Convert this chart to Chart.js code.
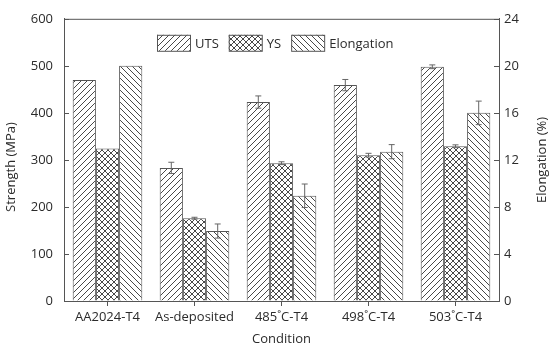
<!DOCTYPE html>
<html>
<head>
<meta charset="utf-8">
<script src="https://cdn.jsdelivr.net/npm/chart.js@4"></script>
<style>
  body { margin: 0; background: #fff; }
  #wrap { width: 550px; height: 348px; }
</style>
</head>
<body>
<div id="wrap"><canvas id="chart" width="550" height="348"></canvas></div>
<script>
const conditions = ['AA2024-T4', 'As-deposited', '485˚C-T4', '498˚C-T4', '503˚C-T4'];

// strength in MPa
const utsValues = [470, 283, 423, 459, 498];
const utsErrors = [0, 12, 13, 12, 4];
const ysValues = [324, 176, 293, 310, 329];
const ysErrors = [0, 2, 3, 4, 3];

// elongation in %
const elongValues = [20.0, 5.95, 8.95, 12.7, 16.0];
const elongErrors = [0, 0.6, 1.0, 0.6, 1.0];

const strengthTicks = [0, 100, 200, 300, 400, 500, 600];
const elongTicks = [0, 4, 8, 12, 16, 20, 24];

const lineCol = '#555';
const textCol = '#2b2b2b';
const fontFamily = '"Open Sans", sans-serif';

// hatch fills like the printed figure
function hatch(kind) {
    const s = 6;
    const c = document.createElement('canvas');
    c.width = s; c.height = s;
    const ctx = c.getContext('2d');
    ctx.fillStyle = '#fff';
    ctx.fillRect(0, 0, s, s);
    ctx.strokeStyle = '#333';
    ctx.lineWidth = 0.9;
    ctx.beginPath();
    if (kind.includes('/')) {
        ctx.moveTo(0, s); ctx.lineTo(s, 0);
        ctx.moveTo(-1, 1); ctx.lineTo(1, -1);
        ctx.moveTo(s - 1, s + 1); ctx.lineTo(s + 1, s - 1);
    }
    if (kind.includes('\\')) {
        ctx.moveTo(0, 0); ctx.lineTo(s, s);
        ctx.moveTo(-1, s - 1); ctx.lineTo(1, s + 1);
        ctx.moveTo(s - 1, -1); ctx.lineTo(s + 1, 1);
    }
    ctx.stroke();
    return ctx.createPattern(c, 'repeat');
}

Chart.defaults.font.family = fontFamily;
Chart.defaults.font.size = 13;
Chart.defaults.color = textCol;

const errorBars = {
    id: 'errorBars',
    afterDatasetsDraw(chart) {
        const ctx = chart.ctx;
        ctx.save();
        ctx.strokeStyle = '#666';
        ctx.lineWidth = 1;
        chart.data.datasets.forEach((ds, i) => {
            const meta = chart.getDatasetMeta(i);
            const scale = chart.scales[ds.yAxisID];
            meta.data.forEach((bar, j) => {
                const err = ds.errors[j];
                if (!err) return;
                const v = ds.data[j];
                const yTop = scale.getPixelForValue(v + err);
                const yBot = scale.getPixelForValue(v - err);
                ctx.beginPath();
                ctx.moveTo(bar.x, yTop); ctx.lineTo(bar.x, yBot);
                ctx.moveTo(bar.x - 3, yTop); ctx.lineTo(bar.x + 3, yTop);
                ctx.moveTo(bar.x - 3, yBot); ctx.lineTo(bar.x + 3, yBot);
                ctx.stroke();
            });
        });
        ctx.restore();
    }
};

// legend sits inside the plot, near the top
const innerLegend = {
    id: 'innerLegend',
    afterDraw(chart) {
        const ctx = chart.ctx;
        const a = chart.chartArea;
        const boxW = 33, boxH = 16, gap = 5, spacing = 10;
        ctx.save();
        ctx.font = '13px ' + fontFamily;
        const items = chart.data.datasets.map(ds => ({ ds, w: boxW + gap + ctx.measureText(ds.label).width }));
        const total = items.reduce((s, it) => s + it.w, 0) + spacing * (items.length - 1);
        let x = Math.round((a.left + a.right) / 2 - total / 2 - 6);
        const top = a.top + 16;
        items.forEach(it => {
            ctx.fillStyle = it.ds.backgroundColor;
            ctx.fillRect(x, top, boxW, boxH);
            ctx.strokeStyle = lineCol;
            ctx.lineWidth = 1;
            ctx.strokeRect(x + 0.5, top + 0.5, boxW, boxH);
            ctx.fillStyle = textCol;
            ctx.textBaseline = 'middle';
            ctx.textAlign = 'left';
            ctx.fillText(it.ds.label, x + boxW + gap, top + boxH / 2 + 1);
            x += it.w + spacing;
        });
        ctx.restore();
    }
};

const frame = {
    id: 'frame',
    afterDraw(chart) {
        const ctx = chart.ctx;
        const a = chart.chartArea;
        ctx.save();
        ctx.strokeStyle = lineCol;
        ctx.lineWidth = 1;
        ctx.beginPath();
        ctx.moveTo(a.left, a.top + 0.5); ctx.lineTo(a.right, a.top + 0.5);
        // inward ticks on both value axes
        const y = chart.scales.y, y1 = chart.scales.y1;
        y.ticks.forEach(t => {
            const p = Math.round(y.getPixelForValue(t.value)) + 0.5;
            ctx.moveTo(a.left, p); ctx.lineTo(a.left + 5, p);
        });
        y1.ticks.forEach(t => {
            const p = Math.round(y1.getPixelForValue(t.value)) + 0.5;
            ctx.moveTo(a.right - 5, p); ctx.lineTo(a.right, p);
        });
        ctx.stroke();
        // both axis titles read bottom to top in the original
        ctx.fillStyle = textCol;
        ctx.font = '13px ' + fontFamily;
        ctx.textAlign = 'center';
        ctx.textBaseline = 'middle';
        ctx.save();
        ctx.translate(11, 167);
        ctx.rotate(-Math.PI / 2);
        ctx.fillText('Strength (MPa)', 0, 0);
        ctx.restore();
        ctx.translate(542, (a.top + a.bottom) / 2);
        ctx.rotate(-Math.PI / 2);
        ctx.fillText('Elongation (%)', 0, 0);
        ctx.restore();
    }
};

new Chart(document.getElementById('chart'), {
    type: 'bar',
    data: {
        labels: conditions,
        datasets: [
            {
                label: 'UTS', data: utsValues, errors: utsErrors, yAxisID: 'y',
                backgroundColor: hatch('/'), borderColor: lineCol, borderWidth: 1
            },
            {
                label: 'YS', data: ysValues, errors: ysErrors, yAxisID: 'y',
                backgroundColor: hatch('/\\'), borderColor: lineCol, borderWidth: 1
            },
            {
                label: 'Elongation', data: elongValues, errors: elongErrors, yAxisID: 'y1',
                backgroundColor: hatch('\\'), borderColor: lineCol, borderWidth: 1
            }
        ]
    },
    options: {
        responsive: false,
        animation: false,
        layout: { padding: { top: 11, left: 0, right: 0, bottom: 0 } },
        datasets: { bar: { categoryPercentage: 0.8, barPercentage: 1.0, borderSkipped: 'start' } },
        plugins: {
            legend: { display: false },
            tooltip: { enabled: false }
        },
        scales: {
            x: {
                grid: { display: true, drawOnChartArea: false, drawTicks: true, tickLength: 5, offset: false, color: lineCol },
                border: { color: lineCol },
                ticks: { padding: 3, maxRotation: 0, autoSkip: false },
                title: { display: true, text: 'Condition', padding: { top: 0, bottom: 1 } },
                afterFit(s) { s.height = 47; }
            },
            y: {
                position: 'left',
                min: 0, max: 600,
                afterBuildTicks(s) { s.ticks = strengthTicks.map(v => ({ value: v })); },
                grid: { drawOnChartArea: false, drawTicks: false },
                border: { color: lineCol },
                ticks: { padding: 11 },
                afterFit(s) { s.width = 64; }
            },
            y1: {
                position: 'right',
                min: 0, max: 24,
                afterBuildTicks(s) { s.ticks = elongTicks.map(v => ({ value: v })); },
                grid: { drawOnChartArea: false, drawTicks: false },
                border: { color: lineCol },
                ticks: { padding: 5 },
                afterFit(s) { s.width = 51; }
            }
        }
    },
    plugins: [errorBars, innerLegend, frame]
});
</script>
</body>
</html>
